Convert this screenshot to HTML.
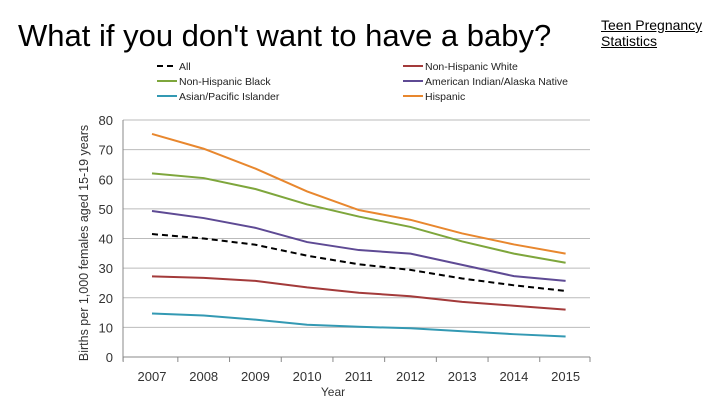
<!DOCTYPE html>
<html><head><meta charset="utf-8"><style>
body{margin:0;width:720px;height:405px;background:#fff;overflow:hidden;position:relative;font-family:"Liberation Sans",sans-serif}
#title{position:absolute;left:18px;top:18px;font-size:31px;color:#000;white-space:nowrap}
#link{position:absolute;left:601px;top:17px;font-size:14px;line-height:16px;color:#000;text-decoration:underline}
svg{position:absolute;left:0;top:0}
</style></head><body>
<div id="title">What if you don't want to have a baby?</div>
<a id="link">Teen Pregnancy<br>Statistics</a>
<svg id="chart" width="720" height="405"></svg>
<script>
const years=["2007","2008","2009","2010","2011","2012","2013","2014","2015"];
const yTicks=[0,10,20,30,40,50,60,70,80];
const allRate=[41.5,40,37.9,34.2,31.3,29.4,26.5,24.2,22.3];
const whiteRate=[27.2,26.7,25.7,23.5,21.7,20.5,18.6,17.3,16];
const blackRate=[62,60.4,56.7,51.5,47.4,43.9,39,34.9,31.8];
const aianRate=[49.3,46.9,43.6,38.8,36.1,34.9,31.1,27.3,25.7];
const apiRate=[14.7,14,12.6,10.9,10.2,9.7,8.7,7.7,6.9];
const hispRate=[75.3,70.3,63.6,55.9,49.6,46.3,41.7,38,34.9];
const seriesNames=["All","Non-Hispanic White","Non-Hispanic Black","American Indian/Alaska Native","Asian/Pacific Islander","Hispanic"];

const svg=document.getElementById('chart');
const NS='http://www.w3.org/2000/svg';
const X0=123,X1=590,Y0=357,Y1=120;
const step=51.7;
const xs=i=>152+step*i;
const ys=v=>Y0-(v/80)*(Y0-Y1);
function mk(t,a){const e=document.createElementNS(NS,t);for(const k in a)e.setAttribute(k,a[k]);svg.appendChild(e);return e;}

yTicks.forEach(v=>{
  const g=mk('line',{x1:X0,x2:X1,y1:ys(v),y2:ys(v),stroke:v===0?'#888':'#bbb','stroke-width':1});
  
  
  const t=mk('text',{x:X0-10,y:ys(v)+5,'text-anchor':'end','font-size':13,fill:'#333'});
  t.textContent=v;
  
  
});
const ax=mk('line',{x1:X0,x2:X0,y1:Y1,y2:Y0+4,stroke:'#888'});


for(let i=0;i<=years.length;i++){
  const tx=Math.min(X1,xs(i)-step/2+ (i===0?-3:0));
  const tk=mk('line',{x1:tx,x2:tx,y1:Y0,y2:Y0+5,stroke:'#888'});
  
  
}
years.forEach((y,i)=>{
  const t=mk('text',{x:xs(i),y:381,'text-anchor':'middle','font-size':13,fill:'#333'});
  t.textContent=y;
  
  
});
const xt=mk('text',{x:333,y:396,'text-anchor':'middle','font-size':12,fill:'#333'});
xt.textContent='Year';


const yt=mk('text',{x:0,y:0,'text-anchor':'middle','font-size':12.5,fill:'#333',transform:'translate(88,243) rotate(-90)'});
yt.textContent='Births per 1,000 females aged 15-19 years';



const series=[
 {d:allRate,c:'#000',dash:'6,4',n:'all'},
 {d:whiteRate,c:'#a33a3a',n:'white'},
 {d:blackRate,c:'#7ea63c',n:'black'},
 {d:aianRate,c:'#5e4a94',n:'aian'},
 {d:apiRate,c:'#3399b3',n:'api'},
 {d:hispRate,c:'#e8872e',n:'hispanic'}];
series.forEach(s=>{
  const p=mk('polyline',{points:s.d.map((v,i)=>xs(i)+','+ys(v)).join(' '),fill:'none',stroke:s.c,'stroke-width':2,'stroke-dasharray':s.dash||'none'});
  
  
});
const legPos=[[157,66],[403,66],[157,81],[403,81],[157,96],[403,96]];
series.forEach((s,i)=>{
  const [lx,ly]=legPos[i];
  const l=mk('line',{x1:lx,x2:lx+20,y1:ly,y2:ly,stroke:s.c,'stroke-width':2,'stroke-dasharray':s.dash||'none'});
  
  
  const t=mk('text',{x:lx+22,y:ly+4,'font-size':10.5,fill:'#222'});
  t.textContent=seriesNames[i];
  
  
});
</script>
</body></html>
